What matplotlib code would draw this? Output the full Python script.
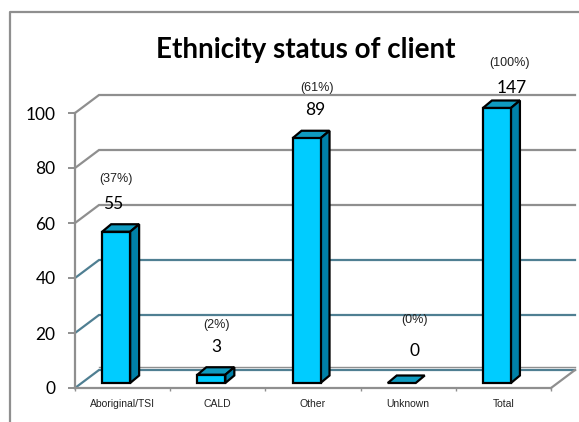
import matplotlib
matplotlib.use('Agg')
import matplotlib.pyplot as plt
from matplotlib.patches import Polygon

categories = ['Aboriginal/TSI', 'CALD', 'Other', 'Unknown', 'Total']
counts = [55, 3, 89, 0, 147]
percents = ['(37%)', '(2%)', '(61%)', '(0%)', '(100%)']
y_ticks = [0, 20, 40, 60, 80, 100]

W, H = 579, 422
fig = plt.figure(figsize=(W / 100, H / 100), dpi=100)
ax = fig.add_axes([75 / W, (H - 388) / H, 476 / W, 275 / H])
ax.set_xlim(0, 5)
ax.set_ylim(0, 100)
ax.patch.set_visible(False)

# sizes of one pixel in data units
px = 5 / 476
py = 100 / 275
wall_dx = 24 * px
wall_dy = 18 * py

grey = '#8f8f8f'
teal = '#4f7f92'

# floor and back wall lines
for v in y_ticks:
    c = grey if v > 40 else teal
    ax.plot([0, wall_dx, 5 + wall_dx], [v, v + wall_dy, v + wall_dy], color=c, lw=1.6,
            clip_on=False, zorder=1, solid_joinstyle='miter')
ax.plot([wall_dx, 5 + wall_dx], [wall_dy + 1, wall_dy + 1], color=grey, lw=1, clip_on=False, zorder=1)
ax.plot([5, 5 + wall_dx], [0, wall_dy], color=grey, lw=1.6, clip_on=False, zorder=1)

# bars, faked 3d
bar_x = [0.285 + i for i in range(5)]
bar_w = 28 * px
bar_base = 5 * py
dx = 9 * px
dy = 7.5 * py
for x, n in zip(bar_x, counts):
    h = min(n, 100)
    top = bar_base + h
    kw = dict(edgecolor='black', lw=1.6, joinstyle='miter', clip_on=False, zorder=3)
    ax.add_patch(Polygon([(x, top), (x + dx, top + dy), (x + bar_w + dx, top + dy), (x + bar_w, top)],
                         facecolor='#0f9bc0', **kw))
    if h > 0:
        ax.add_patch(Polygon([(x + bar_w, bar_base), (x + bar_w + dx, bar_base + dy),
                              (x + bar_w + dx, top + dy), (x + bar_w, top)],
                             facecolor='#0080a8', **kw))
        ax.add_patch(Polygon([(x, bar_base), (x + bar_w, bar_base), (x + bar_w, top), (x, top)],
                             facecolor='#00ccff', **kw))

# ticks and labels
for s in ['top', 'right']:
    ax.spines[s].set_visible(False)
ax.spines['left'].set_color(grey)
ax.spines['left'].set_linewidth(1.6)
ax.spines['bottom'].set_color(grey)
ax.spines['bottom'].set_linewidth(1.6)
ax.set_yticks(y_ticks)
ax.tick_params(axis='y', length=5, width=1.4, color=grey, pad=9)
for t in ax.get_yticklabels():
    t.set_fontfamily('Lato')
    t.set_fontsize(12.5)
ax.set_xticks(range(6))
ax.set_xticklabels([])
ax.tick_params(axis='x', which='major', length=2.5, width=1, color=grey)
ax.set_xticks([i + 0.5 for i in range(5)], minor=True)
ax.set_xticklabels(categories, minor=True, family='Liberation Sans', fontsize=7.5, color='#222222')
ax.tick_params(axis='x', which='minor', length=0, pad=8)

# value and percent labels, pixel positions
count_y = [204, 347, 110, 351, 88]
pct_y = [179, 325, 88, 320, 63]
count_x = [113, 216, 315, 415, 512]
pct_x = [116, 217, 317, 414, 509]
for i in range(5):
    ax.text((count_x[i] - 75) * px, (388 - count_y[i]) * py, str(counts[i]), family='Lato', fontsize=12.5,
            ha='center', va='center', zorder=5, clip_on=False)
    ax.text((pct_x[i] - 75) * px, (388 - pct_y[i]) * py, percents[i],
            family='Liberation Sans', fontsize=9, color='#222222',
            ha='center', va='center', zorder=5, clip_on=False)

fig.text(306 / W, 1 - 50 / H, 'Ethnicity status of client', family='Lato', fontweight='bold',
         fontsize=20, ha='center', va='center')

# outer frame, runs off the image at the right and bottom
fig.add_artist(plt.Line2D([10 / W, 10 / W, 1], [0, 1 - 12 / H, 1 - 12 / H], color=grey, lw=1.6))

fig.savefig('out.png', dpi=100)
